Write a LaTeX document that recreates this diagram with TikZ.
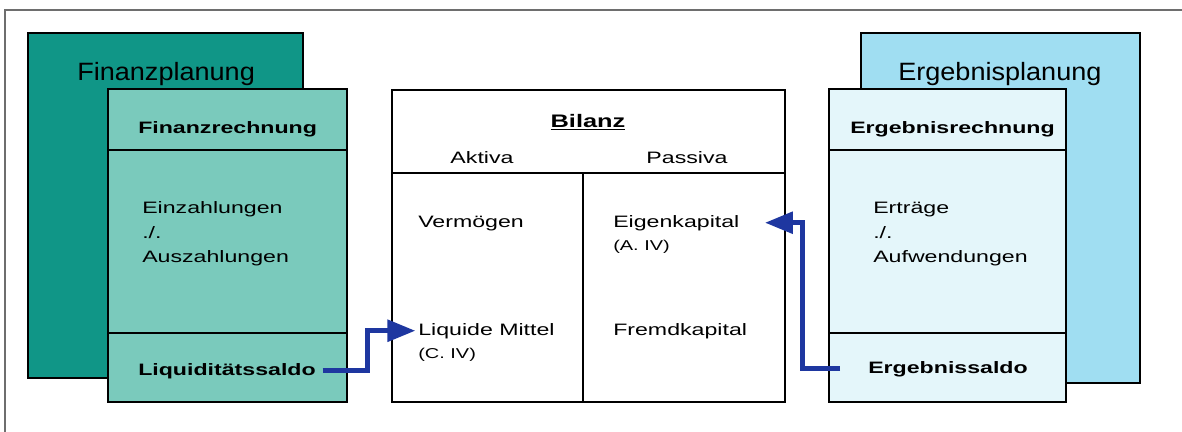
\documentclass[tikz,border=0pt]{standalone}
\usepackage{fontspec}
\setmainfont{Liberation Sans}
\newfontfamily\breit[FakeStretch=1.4]{Liberation Sans}
\newfontfamily\titelfont[FakeStretch=1.08]{Liberation Sans}
\usetikzlibrary{arrows.meta}
\definecolor{fplandunkel}{RGB}{16,150,135}
\definecolor{frechmittel}{RGB}{122,202,188}
\definecolor{eplanhell}{RGB}{160,222,242}
\definecolor{erechhell}{RGB}{228,246,250}
\definecolor{pfeilblau}{RGB}{30,55,160}
\definecolor{rahmengrau}{RGB}{110,110,110}
\begin{document}
\begin{tikzpicture}[x=0.75pt,y=-0.75pt,
	txt/.style={inner sep=0pt,anchor=base west,font=\breit\fontsize{12.4}{15}\selectfont},
	klein/.style={inner sep=0pt,anchor=base west,font=\breit\fontsize{10.7}{13}\selectfont},
	titel/.style={inner sep=0pt,anchor=base west,font=\titelfont\fontsize{18.8}{22}\selectfont},
	pfeil/.style={draw=pfeilblau,line width=3.75pt,-{Triangle[length=21pt,width=16pt]}}]
	\useasboundingbox (0,0) rectangle (1182,432);
		\draw[rahmengrau,line width=1.1pt] (5,432)--(5,10)--(1182,10);
	% Finanzplanung
		\draw[fill=fplandunkel,line width=1.4pt] (28,33) rectangle (303,378);
		\node[titel] (fplan) at (77,80) {Finanzplanung};
		\draw[fill=frechmittel,line width=0.8pt] (108,89) rectangle (347,402);
			\draw[line width=0.8pt] (108,150)--(347,150);
			\draw[line width=0.8pt] (108,333)--(347,333);
		\node[txt] (frech) at (138,133) {\bfseries Finanzrechnung};
		\node[txt] (einz) at (142,213) {Einzahlungen};
		\node[txt] (fminus) at (142,238) {./.};
		\node[txt] (ausz) at (142,262) {Auszahlungen};
		\node[txt] (liqsaldo) at (138,375) {\bfseries Liquiditätssaldo};
	% Bilanz
		\draw[fill=white,line width=0.8pt] (392,90) rectangle (785,402);
			\draw[line width=0.8pt] (392,173)--(785,173);
			\draw[line width=0.8pt] (583,173)--(583,402);
		\node[inner sep=0pt,anchor=base,font=\breit\fontsize{13.6}{16}\selectfont\bfseries] (bilanz) at (588,127) {\underline{Bilanz}};
		\node[txt,anchor=base] (aktiva) at (482,163) {Aktiva};
		\node[txt,anchor=base] (passiva) at (687,163) {Passiva};
		\node[txt] (vermoegen) at (418,227) {Vermögen};
		\node[txt] (liqmittel) at (418,335) {Liquide Mittel};
		\node[klein] (civ) at (418,358) {(C. IV)};
		\node[txt] (eigenkap) at (613,227) {Eigenkapital};
		\node[klein] (aiv) at (613,250) {(A. IV)};
		\node[txt] (fremdkap) at (613,335) {Fremdkapital};
	% Ergebnisplanung
		\draw[fill=eplanhell,line width=1.4pt] (861,33) rectangle (1140,383);
		\node[titel] (eplan) at (898,80) {Ergebnisplanung};
		\draw[fill=erechhell,line width=0.8pt] (829,89) rectangle (1066,402);
			\draw[line width=0.8pt] (829,150)--(1066,150);
			\draw[line width=0.8pt] (829,333)--(1066,333);
		\node[txt] (erech) at (850,133) {\bfseries Ergebnisrechnung};
		\node[txt] (ertr) at (873,213) {Erträge};
		\node[txt] (eminus) at (873,238) {./.};
		\node[txt] (aufw) at (873,262) {Aufwendungen};
		\node[txt] (ergsaldo) at (868,373) {\bfseries Ergebnissaldo};
	% Pfeile
		\draw[pfeil] ([xshift=5pt]liqsaldo.east) -- ++(45,0) |- ([xshift=-2pt]liqmittel.west);
		\draw[pfeil] ([xshift=-21pt]ergsaldo.west) -- ++(-38,0) |- ([xshift=19pt]eigenkap.east);
\end{tikzpicture}
\end{document}
